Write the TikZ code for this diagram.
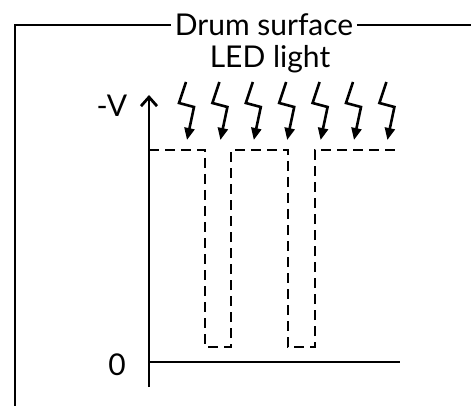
\documentclass[tikz,border=0pt]{standalone}
\usepackage{fontspec}
\setmainfont{Lato}
\usetikzlibrary{arrows.meta, positioning}
\tikzset{
  every picture/.style={line width=1.6pt},
  label/.style={font=\fontsize{30}{36}\selectfont, inner sep=3pt},
  axis/.style={line width=2.8pt},
  level/.style={line width=2.8pt, dash pattern=on 10pt off 6pt},
  bolt/.style={-{Triangle[length=12pt, width=10pt]}, line width=2.6pt, line join=miter},
}
\begin{document}
\begin{tikzpicture}[x=1pt, y=-1pt]
  \useasboundingbox (0,0) rectangle (471,406);
  % ---- frame with title
  \node[label] (title) at (264,25) {Drum surface};
  \node[label] (led) at (270,59) {LED light};
  \coordinate (fbot) at (15,406);
  \coordinate (ftop) at (15,25);
  \coordinate (fright) at (471,25);
  \draw (fbot) -- (ftop) -- (title.west);
  \draw (title.east) -- (fright);
  % ---- axes
  \coordinate (ybot) at (149,387);
  \coordinate (ytop) at (149,95);
  \coordinate (zend) at (400,362);
  \draw[axis, -{Straight Barb[length=9pt, width=16pt]}] (ybot) -- (ytop);
  \draw[axis] (149,362) -- (zend);
  \node[label] (vlab) at (112,106) {-V};
  \node[label] (zero) at (117,365) {0};
  % ---- charged level with two exposed dips
  \draw[level] (149,150) -- (205,150) -- (205,347) -- (231,347) -- (231,150)
    -- (288,150) -- (288,347) -- (315,347) -- (315,150) -- (400,150);
  % ---- light strikes
  \foreach \i in {0,...,6} {
    \pgfmathsetmacro{\bx}{187+33.4*\i}
    \draw[bolt] (\bx-1,82) -- (\bx-8,103) -- (\bx+7,107) -- (\bx,140);
  }
\end{tikzpicture}
\end{document}
